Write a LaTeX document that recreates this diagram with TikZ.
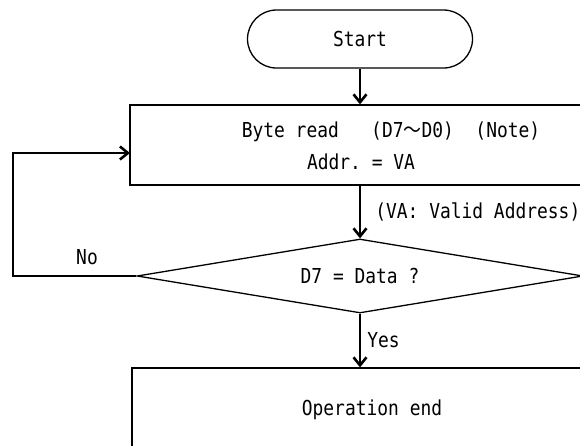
\documentclass[tikz,border=0pt]{standalone}
\usepackage{fontspec}
\setmainfont{DejaVu Sans Mono}[FakeStretch=0.87]
\newfontfamily\cjk{Noto Sans CJK JP}[FakeStretch=0.87]
\usetikzlibrary{arrows.meta, positioning, shapes.geometric}

\begin{document}
\begin{tikzpicture}[x=1pt, y=-1pt,
    font=\fontsize{20.6pt}{26pt}\selectfont,
    box/.style={draw, rectangle, line width=1.3pt, inner sep=0pt},
    flow/.style={-{Straight Barb[length=8pt, width=13pt]}, line width=2.6pt},
    lbl/.style={inner sep=0pt}]
    \useasboundingbox (0,0) rectangle (580,445);
    \clip (0,0) rectangle (580,445);

    % Schritte
    \node (start) [box, rounded corners=29pt, minimum width=225pt, minimum height=58pt] at (360,39) {Start};
    \node (read) [box, minimum width=520pt, minimum height=80pt] at (390,145) {};
    \node (readtxt) [lbl] at (391,132) {Byte read\ \ \ (D7{\cjk ～}D0)\ \ (Note)};
    \node (addrtxt) [lbl] at (361,162) {Addr.\ = VA};
    \node (check) [box, diamond, aspect=6, minimum width=446pt, minimum height=74pt] at (360,276) {D7 = Data ?};
    \node (done) [box, minimum width=480pt, minimum height=84pt] at (372,410) {Operation end};
    \coordinate (back) at (13,276);
    \coordinate (entry) at (130,153);

    % Verbindungen
    \draw[flow] (start) -- (start |- read.north);
    \draw[flow] (check.north |- read.south) -- node[lbl, right=14pt] {(VA: Valid Address)} (check.north);
    \draw[flow] (check) -- node[lbl, pos=0.4, above=10pt] {No} (back) |- (entry);
    \draw[flow] (check) -- node[lbl, right=6pt] {Yes} (check.south |- done.north);
\end{tikzpicture}
\end{document}
